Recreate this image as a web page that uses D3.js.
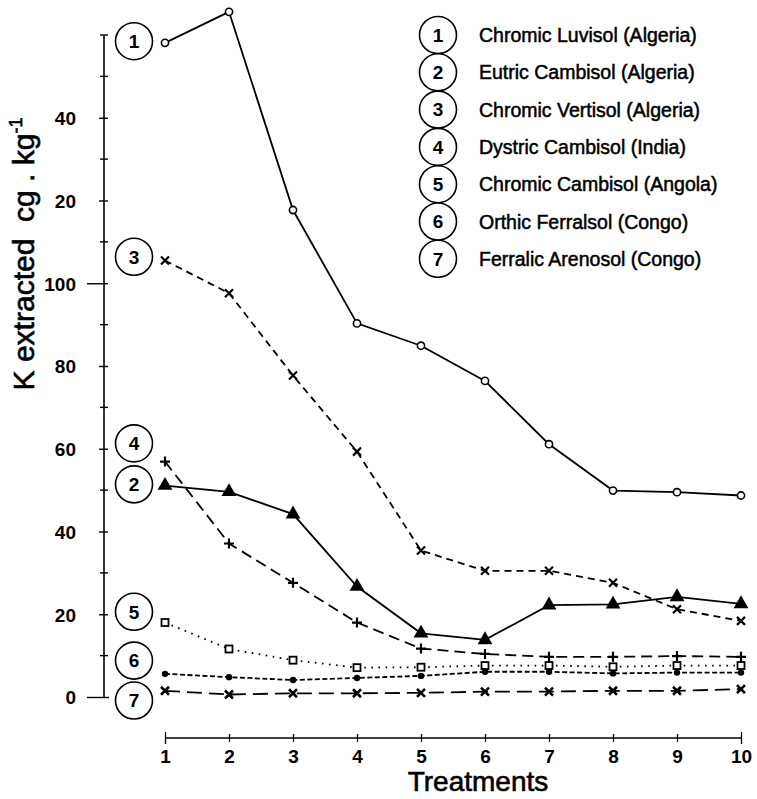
<!DOCTYPE html>
<html><head><meta charset="utf-8">
<script src="https://cdn.jsdelivr.net/npm/d3@7"></script>
<style>html,body{margin:0;padding:0;background:#fff;}svg{display:block;}</style>
</head><body>
<svg id="chart" width="757" height="799"></svg>
<script>
const treatments = [1,2,3,4,5,6,7,8,9,10];
const soilNames = ["Chromic Luvisol (Algeria)","Eutric Cambisol (Algeria)","Chromic Vertisol (Algeria)","Dystric Cambisol (India)","Chromic Cambisol (Angola)","Orthic Ferralsol (Congo)","Ferralic Arenosol (Congo)"];
const s1 = [158.1,165.6,117.7,90.3,84.9,76.4,61.1,49.9,49.5,48.7];
const s2 = [51.1,49.6,44.2,26.7,15.4,13.8,22.2,22.4,24.2,22.5];
const s3 = [105.5,97.6,77.7,59.3,35.4,30.5,30.5,27.6,21.2,18.4];
const s4 = [56.9,37.1,27.6,18.0,11.7,10.4,9.7,9.7,9.9,9.7];
const s5 = [18.0,11.6,8.9,7.1,7.2,7.6,7.6,7.3,7.6,7.6];
const s6 = [5.6,4.8,4.1,4.6,5.1,6.1,6.1,5.7,5.9,5.9];
const s7 = [1.5,0.6,0.9,0.9,1.0,1.3,1.3,1.5,1.5,1.9];
const seriesValues = [s1,s2,s3,s4,s5,s6,s7];
const yTickValues = [0,20,40,60,80,100,120,140];
const yTickLabels = ["0","20","40","60","80","100","20","40"];
const yMinorTicks = [10,30,50,70,90,110,130,150,160];
const labelLevels = [158.5,51.4,106.4,61.3,20.6,8.8,-0.85];

const svg = d3.select("#chart");
const x = d3.scaleLinear().domain([1,10]).range([165,741]);
const y = d3.scaleLinear().domain([0,160]).range([697,35]);
const axX = 104;
const FONT = "'Liberation Sans', Arial, Helvetica, sans-serif";

// Y axis
const yAxis = d3.axisLeft(y).tickValues(yTickValues).tickFormat((d,i)=>yTickLabels[i]).tickSize(0).tickPadding(28);
const gy = svg.append("g").attr("transform",`translate(${axX},0)`).call(yAxis);
gy.select(".domain").remove();
gy.selectAll("text").attr("font-family",FONT).attr("font-size",19).attr("font-weight","bold").attr("fill","#000").attr("dy","0.36em");
gy.append("line").attr("x1",0).attr("x2",0).attr("y1",y(0)).attr("y2",y(160)).attr("stroke","#000").attr("stroke-width",1.6);
gy.selectAll(".tick").append("line")
  .attr("x1",d=> (d===0||d===100)? -17 : -5).attr("x2",d=> d===0? 5 : 4)
  .attr("stroke","#000").attr("stroke-width",1.4);
gy.selectAll(".minor").data(yMinorTicks).enter().append("line").attr("class","minor")
  .attr("x1",-4).attr("x2",4).attr("y1",d=>y(d)).attr("y2",d=>y(d)).attr("stroke","#000").attr("stroke-width",1.4);

// X axis
const xAxis = d3.axisBottom(x).tickValues(treatments).tickFormat(d3.format("d")).tickSize(0).tickPadding(8);
const gx = svg.append("g").attr("transform","translate(0,738)").call(xAxis);
gx.select(".domain").remove();
gx.append("line").attr("x1",x(1)).attr("x2",x(10)).attr("y1",0).attr("y2",0).attr("stroke","#000").attr("stroke-width",1.6);
gx.selectAll(".tick").append("line").attr("y1",d=>(d===1||d===10)?-6:-4).attr("y2",d=>(d===1||d===10)?6:4).attr("stroke","#000").attr("stroke-width",1.3);
gx.selectAll("text").attr("font-family",FONT).attr("font-size",19).attr("font-weight","bold").attr("fill","#000").attr("dy","0.9em");

// Axis titles
svg.append("text").attr("x",478).attr("y",791).attr("text-anchor","middle")
  .attr("font-family",FONT).attr("font-size",28).attr("stroke","#000").attr("stroke-width",0.6).text("Treatments");
const yl = svg.append("text").attr("transform","translate(34,254) rotate(-90)").attr("text-anchor","middle")
  .attr("font-family",FONT).attr("font-size",30).attr("stroke","#000").attr("stroke-width",0.6)
  .style("white-space","pre");
yl.append("tspan").text("K extracted\u00a0\u00a0cg . kg");
yl.append("tspan").attr("font-size",18).attr("dy",-12).text("-1");

// Series
const styles = [
  {dash:null, marker:"circle"},
  {dash:null, marker:"triangle"},
  {dash:"7,5", marker:"x"},
  {dash:"11,6", marker:"plus"},
  {dash:"1.6,5.5", marker:"square"},
  {dash:"5,2.5", marker:"dot"},
  {dash:"15,7", marker:"x2"}
];
const line = d3.line().x((d,i)=>x(treatments[i])).y(d=>y(d));
seriesValues.forEach((vals,si)=>{
  const st = styles[si];
  svg.append("path").datum(vals).attr("d",line).attr("fill","none").attr("stroke","#000")
    .attr("stroke-width",1.8).attr("stroke-dasharray",st.dash);
  const g = svg.append("g");
  vals.forEach((v,i)=>{
    const px = x(treatments[i]), py = y(v);
    const m = g.append("g").attr("transform",`translate(${px},${py})`);
    if(st.marker==="circle") m.append("circle").attr("r",3.6).attr("fill","#fff").attr("stroke","#000").attr("stroke-width",1.6);
    else if(st.marker==="triangle") m.append("path").attr("d",d3.symbol(d3.symbolTriangle,95)()).attr("fill","#000");
    else if(st.marker==="square") m.append("rect").attr("x",-3.5).attr("y",-3.5).attr("width",7).attr("height",7).attr("fill","#fff").attr("stroke","#000").attr("stroke-width",1.8);
    else if(st.marker==="dot") m.append("circle").attr("r",3.2).attr("fill","#000");
    else if(st.marker==="plus") m.append("path").attr("d","M-5,0H5M0,-5V5").attr("stroke","#000").attr("stroke-width",2.2);
    else if(st.marker==="x") m.append("path").attr("d","M-4,-4L4,4M-4,4L4,-4").attr("stroke","#000").attr("stroke-width",2.2);
    else if(st.marker==="x2") m.append("path").attr("d","M-4,-4L4,4M-4,4L4,-4").attr("stroke","#000").attr("stroke-width",2.6);
  });
});

// Numbered circles on plot
labelLevels.forEach((lv,i)=>{
  const g = svg.append("g").attr("transform",`translate(134,${y(lv)})`);
  g.append("circle").attr("r",18.5).attr("fill","#fff").attr("stroke","#000").attr("stroke-width",1.6);
  g.append("text").attr("text-anchor","middle").attr("dy","0.36em").attr("font-family",FONT)
    .attr("font-size",19).attr("font-weight","bold").text(i+1);
});

// Legend
soilNames.forEach((name,i)=>{
  const cy = 35 + i*37.3;
  const g = svg.append("g").attr("transform",`translate(438,${cy})`);
  g.append("circle").attr("r",18.5).attr("fill","#fff").attr("stroke","#000").attr("stroke-width",1.6);
  g.append("text").attr("text-anchor","middle").attr("dy","0.36em").attr("font-family",FONT)
    .attr("font-size",19).attr("font-weight","bold").text(i+1);
  g.append("text").attr("x",41).attr("dy","0.36em").attr("font-family",FONT)
    .attr("font-size",19.5).attr("stroke","#000").attr("stroke-width",0.5).text(name);
});
</script>
</body></html>
